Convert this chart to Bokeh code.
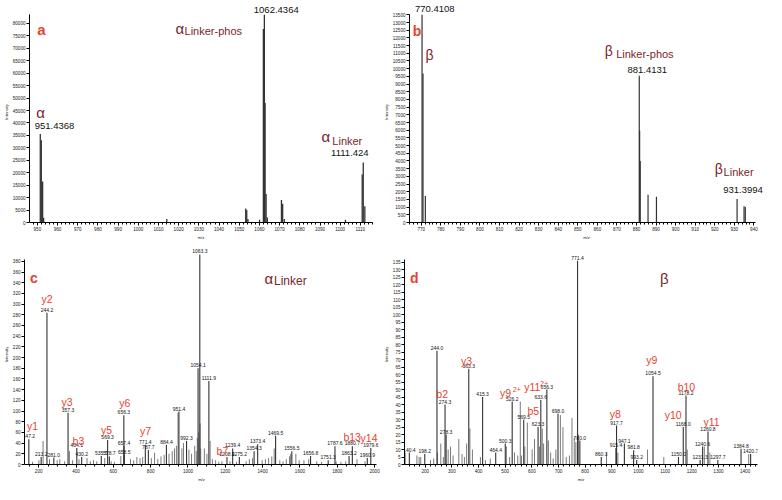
from bokeh.plotting import figure
from bokeh.models import ColumnDataSource, SingleIntervalTicker, FixedTicker, BasicTickFormatter, Range1d
from bokeh.layouts import column, row
from bokeh.embed import file_html
from bokeh.resources import INLINE
from bokeh.core.properties import value

FONT = "Liberation Sans"
RED = "#e8432e"
DARKRED = "#7a1f2b"
PEAK = "#333333"
GREY = "#7a7a7a"

# ---------------- panel a : MS1, alpha peptide ----------------
A_MZ = [951.44, 951.94, 952.6, 953.1, 1014.1, 1053.2, 1053.7, 1054.3, 1060.05, 1061.95,
        1062.44, 1062.8, 1063.3, 1063.9, 1070.9, 1071.5, 1072.3, 1102.6, 1110.9, 1111.42, 1112.2]
A_INT = [35600, 33000, 16500, 1900, 1400, 5600, 5000, 1400, 1150, 77800,
         83450, 48000, 11500, 2000, 9070, 7540, 1400, 1150, 19250, 24100, 6500]
A_YTICKS = [0, 5000, 10000, 15000, 20000, 25000, 30000, 35000, 40000, 45000, 50000,
            55000, 60000, 65000, 70000, 75000, 80000]

# ---------------- panel b : MS1, beta peptide ----------------
B_MZ = [770.41, 770.9, 772.1, 881.41, 881.6, 881.9, 885.9, 890.2, 931.40, 934.96, 935.6]
B_INT = [13500, 9680, 1730, 9540, 5960, 4000, 1800, 1670, 1530, 1050, 1000]
B_YTICKS = [0, 500, 1000, 1500, 2000, 2500, 3000, 3500, 4000, 4500, 5000, 5500, 6000, 6500,
            7000, 7500, 8000, 8500, 9000, 9500, 10000, 10500, 11000, 11500, 12000, 12500,
            13000, 13500]

# ---------------- panel c : MS2, alpha Linker ----------------
C_LAB_MZ = [147.2, 213.2, 244.2, 281.0, 357.3, 404.1, 430.2, 535.5, 569.3, 578.7, 656.3, 657.4,
            658.5, 771.4, 787.7, 884.4, 951.4, 992.3, 1054.1, 1063.3, 1111.9, 1208.9, 1239.4,
            1275.2, 1354.3, 1373.4, 1469.5, 1556.5, 1656.8, 1751.3, 1787.6, 1863.2, 1880.7,
            1960.9, 1979.6]
C_LAB_INT = [47, 14, 284, 13, 97, 31, 14, 16, 46, 15, 92, 35, 18, 37, 27, 37, 99, 44, 180, 393,
             156, 14, 30, 14, 25, 38, 54, 25, 16, 8, 34, 16, 34, 12, 31]
C_MZ = [166.6, 201, 223.4, 257.8, 299, 313, 339, 364.6, 381.8, 416, 459, 476.5, 493.7, 511, 554,
        588.4, 605.6, 640, 692, 709, 726, 743, 757, 803.6, 820.8, 838, 855.3, 872.5, 898.3,
        915.5, 927.6, 938, 946.5, 967.2, 975.8, 1005, 1019, 1036, 1044.6, 1050, 1058, 1065,
        1068, 1087.7, 1101.4, 1118.6, 1130.7, 1148, 1165, 1182, 1225, 1260, 1311.5, 1328.7,
        1346, 1397.6, 1414.8, 1432, 1449, 1462, 1492, 1509.5, 1526.7, 1544, 1550, 1578, 1595.6,
        1621.4, 1647, 1690, 1716, 1793.6, 1819.4, 1845, 1905.5, 1948.6]
C_INT = [5, 8, 44, 10, 8, 10, 6, 25, 8, 10, 12, 6, 8, 6, 12,
         6, 5, 16, 10, 8, 14, 12, 14, 12, 22, 10, 15, 18, 20,
         25, 30, 35, 97, 30, 40, 28, 20, 35, 25, 50, 60, 77,
         30, 30, 20, 44, 10, 8, 5, 6, 6, 5, 6, 10,
         12, 8, 10, 12, 15, 30, 8, 6, 10, 15, 20, 20, 8,
         8, 10, 6, 5, 6, 5, 6, 10, 6]
C_YTICKS = [0, 20, 40, 60, 80, 100, 120, 140, 160, 180, 200, 220, 240, 260, 280, 300, 320,
            340, 360, 380]
C_FRAG = ["y1", "y2", "y3", "b3", "y5", "y6", "y7", "b7", "b13", "y14"]
C_FRAG_MZ = [137.3, 214.8, 321.7, 381.6, 533.5, 631.6, 743.2, 1153.3, 1833, 1925]
C_FRAG_Y = [72.5, 309, 117.5, 44, 65.4, 115.7, 62.7, 24.7, 51.8, 49.5]

# ---------------- panel d : MS2, beta ----------------
D_LAB_MZ = [140.4, 198.2, 244.0, 274.3, 278.3, 363.3, 415.3, 464.4, 500.3, 526.2, 569.5, 623.3,
            633.6, 656.3, 698.0, 771.4, 780.0, 860.3, 915.4, 917.7, 947.1, 981.8, 993.2, 1054.5,
            1150.0, 1168.0, 1178.2, 1231.3, 1240.6, 1260.8, 1297.7, 1384.8, 1420.7]
D_LAB_INT = [8, 7, 76, 40, 20, 64, 45, 8, 14, 42, 30, 25, 43, 50, 34, 136, 16, 5, 11, 26, 14,
             9.5, 3, 59, 5, 25, 46, 3, 12, 22, 3, 10.5, 7]
D_MZ = [125, 168.7, 177, 183, 219.6, 231.7, 246, 258.4, 268, 286, 295, 304.5, 326, 338, 347,
        355.3, 367.5, 377, 407, 425.6, 444, 504.4, 516.6, 534.7, 547, 556.6, 561, 573.5, 583,
        601, 610, 629, 639, 644, 662, 670.5, 680, 690, 707, 716.6, 729, 741, 750.5, 759, 765,
        775, 880, 922.7, 1034, 1095, 1183, 1247, 1268, 1413.5]
D_INT = [8, 6, 5, 5, 3, 4, 8, 14, 5, 10, 12, 6, 17, 7, 5,
         14, 24, 10, 5, 3, 4, 12, 5, 8, 6, 42, 6, 12, 28,
         10, 17, 12, 24, 14, 16, 8, 4, 10, 33, 25, 5, 6, 31, 18, 15,
         20, 8, 8, 10, 5, 10, 12, 8, 7]
D_YTICKS = [0, 5, 10, 15, 20, 25, 30, 35, 40, 45, 50, 55, 60, 65, 70, 75, 80, 85, 90, 95, 100,
            105, 110, 115, 120, 125, 130, 135]
D_FRAG = ["b2", "y3", "y9", "y11", "b5", "y8", "y9", "y10", "b10", "y11"]
D_FRAG_MZ = [241.5, 334, 480.4, 571.3, 583.3, 892.4, 1029.5, 1098.5, 1147, 1244]
D_FRAG_Y = [46.9, 68.8, 47.6, 51.7, 35.8, 33.4, 69.7, 32.8, 51.9, 28.7]
D_SUP = ["2+", "2+"]
D_SUP_MZ = [528.7, 631.6]
D_SUP_Y = [50.3, 54.3]


def make_fig(w, h, xr, yr, bl, br, bt, bb, xint, xminor, yticks, xbounds, ybounds):
    p = figure(width=w, height=h, x_range=Range1d(*xr), y_range=Range1d(*yr),
               output_backend="svg", toolbar_location=None,
               min_border_left=bl, min_border_right=br, min_border_top=bt, min_border_bottom=bb)
    p.outline_line_color = None
    p.grid.visible = False
    p.background_fill_color = "white"
    p.border_fill_color = "white"
    p.xaxis.ticker = SingleIntervalTicker(interval=xint, num_minor_ticks=xminor)
    p.yaxis.ticker = FixedTicker(ticks=yticks)
    p.xaxis.bounds = xbounds
    p.yaxis.bounds = ybounds
    for ax in (p.xaxis[0], p.yaxis[0]):
        ax.formatter = BasicTickFormatter(use_scientific=False)
        ax.major_label_text_font = FONT
        ax.major_label_text_font_size = "4.6px"
        ax.major_label_text_color = "#222222"
        ax.axis_label_text_font = FONT
        ax.axis_label_text_font_size = "4.2px"
        ax.axis_label_text_font_style = "normal"
        ax.axis_label_text_color = "#222222"
        ax.major_tick_in = 0
        ax.major_tick_out = 3
        ax.minor_tick_in = 0
        ax.minor_tick_out = 2
        ax.major_label_standoff = 1
        ax.axis_label_standoff = 1
        ax.axis_line_color = "black"
        ax.major_tick_line_color = "black"
        ax.minor_tick_line_color = "black"
    p.xaxis.axis_label = "m/z"
    p.yaxis.axis_label = "Intensity"
    return p


def peaks(p, mz, inten, color, width=1.0):
    src = ColumnDataSource(dict(x=mz, y=inten, z=[0] * len(mz)))
    p.segment(x0="x", y0="z", x1="x", y1="y", source=src, line_color=color, line_width=width)


def peak_labels(p, mz, inten, size="5px"):
    src = ColumnDataSource(dict(x=mz, y=inten, t=[f"{m:.1f}" for m in mz]))
    p.text(x="x", y="y", text="t", source=src, text_font=value(FONT), text_font_size=value(size),
           text_color="#111111", text_align="center", text_baseline="bottom", y_offset=-1)


def texts(p, xs, ys, ts, size, color, style="normal", align="left"):
    src = ColumnDataSource(dict(x=xs, y=ys, t=ts))
    p.text(x="x", y="y", text="t", source=src, text_font=value(FONT), text_font_size=value(size),
           text_color=color, text_font_style=style, text_align=align, text_baseline="alphabetic")


# ---- panel a
pa = make_fig(380, 242, (946.1, 1116.0), (0, 88800), 24, 8, 1, 17, 10, 5, A_YTICKS,
              (946.1, 1116.0), (0, 83450))
peaks(pa, A_MZ, A_INT, PEAK, 1.3)
texts(pa, [950.0], [77700], ["a"], "15px", RED, "bold")
texts(pa, [1018.4, 949.5, 1090.7], [77900, 44400, 34450], ["α", "α", "α"], "15px", DARKRED)
texts(pa, [1022.9, 1096.1], [77000, 32700], ["Linker-phos", "Linker"], "11px", DARKRED)
texts(pa, [1057.2, 948.7, 1095.5], [85560, 38660, 27940],
      ["1062.4364", "951.4368", "1111.424"], "9.5px", "#111111")

# ---- panel b
pb = make_fig(386, 242, (764.0, 944.9), (0, 14366), 21, 3, 1, 17, 10, 5, B_YTICKS,
              (764.0, 941.0), (0, 13500))
peaks(pb, B_MZ, B_INT, PEAK, 1.2)
texts(pb, [765.7], [12450], ["b"], "14px", RED, "bold")
texts(pb, [772.2, 863.8, 919.96], [10890, 11180, 3470], ["β", "β", "β"], "14px", DARKRED)
texts(pb, [869.6, 924.5], [10950, 3280], ["Linker-phos", "Linker"], "11px", DARKRED)
texts(pb, [766.8, 875.4, 924.3], [13900, 9910, 2105],
      ["770.4108", "881.4131", "931.3994"], "9.5px", "#111111")

# ---- panel c
pc = make_fig(380, 242, (123.9, 2020.9), (0, 411.5), 18, 2, 2, 15, 200, 4, C_YTICKS,
              (123.9, 2008), (0, 383))
peaks(pc, C_MZ, C_INT, GREY, 1.0)
peaks(pc, C_LAB_MZ, C_LAB_INT, PEAK, 1.1)
peak_labels(pc, C_LAB_MZ, C_LAB_INT)
texts(pc, [152.8], [348], ["c"], "14px", RED, "bold")
texts(pc, [1409.5], [348], ["α"], "15px", DARKRED)
texts(pc, [1461], [343], ["Linker"], "12px", DARKRED)
texts(pc, C_FRAG_MZ, C_FRAG_Y, C_FRAG, "10.5px", RED)

# ---- panel d
pd = make_fig(386, 242, (122.2, 1446.5), (0, 146.9), 20, 9, 2, 15, 100, 5, D_YTICKS,
              (122.2, 1446.5), (0, 136.7))
peaks(pd, D_MZ, D_INT, GREY, 1.0)
peaks(pd, D_LAB_MZ, D_LAB_INT, PEAK, 1.1)
peak_labels(pd, D_LAB_MZ, D_LAB_INT)
texts(pd, [143.3], [124.3], ["d"], "14px", RED, "bold")
texts(pd, [1080.4], [124], ["β"], "15px", DARKRED)
texts(pd, D_FRAG_MZ, D_FRAG_Y, D_FRAG, "10.5px", RED)
texts(pd, D_SUP_MZ, D_SUP_Y, D_SUP, "7px", RED)

layout = column(row(pa, pb), row(pc, pd))
open("out.html", "w").write(file_html(layout, INLINE))
